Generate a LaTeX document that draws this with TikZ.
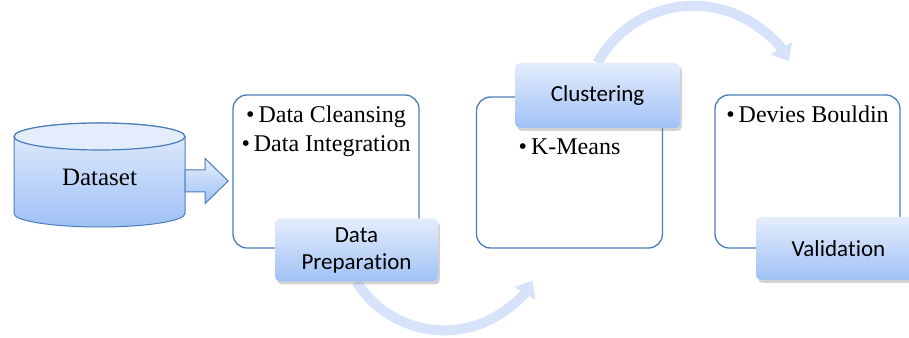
\documentclass[tikz,border=0pt]{standalone}
\usepackage{fontspec}
\setmainfont{Liberation Serif}
\newfontfamily\labelfont[Ligatures=NoCommon]{Carlito}
\usetikzlibrary{arrows.meta,shadows,calc,backgrounds}
\definecolor{edgeblue}{RGB}{74,126,187}
\definecolor{toplight}{RGB}{228,237,252}
\definecolor{bottomdeep}{RGB}{160,193,246}
\definecolor{arcblue}{RGB}{214,227,250}

\begin{document}
\begin{tikzpicture}[x=1pt,y=1pt,
    stagebox/.style={draw=edgeblue,line width=1.3pt,rounded corners=14pt,minimum width=186pt,minimum height=153pt},
    tagbox/.style={rounded corners=5pt,top color=toplight,bottom color=bottomdeep,
        drop shadow={opacity=0.35,shadow xshift=2pt,shadow yshift=-3pt},
        minimum width=163pt,minimum height=63pt,align=center,
        font=\labelfont\fontsize{23}{27}\selectfont},
    bullets/.style={anchor=base,font=\fontsize{24}{29}\selectfont},
    blockarrow/.style={draw=edgeblue,line width=1pt,top color=toplight,bottom color=bottomdeep},
    flowarc/.style={draw=arcblue,line width=10pt,-{Triangle[width=24pt,length=15pt]}}]
    \useasboundingbox (0,0) rectangle (909,337);

    \draw[blockarrow] (14,200.5) -- (14,123.5) arc[start angle=180,end angle=360,x radius=85.5,y radius=13.5]
        -- (185,200.5) arc[start angle=0,end angle=180,x radius=85.5,y radius=13.5] -- cycle;
    \draw[draw=edgeblue,line width=1.2pt,fill=toplight] (99.5,200.5) ellipse[x radius=85.5,y radius=13.5];
    \node (data) at (99.5,160) [minimum width=171pt,minimum height=104pt,font=\rmfamily\fontsize{25}{30}\selectfont] {Dataset};

    \draw[blockarrow] ($(data.east)+(0,7)$) -- ++(20,0) -- ++(0,11.5) -- ++(23,-22.5) -- ++(-23,-22.5)
        -- ++(0,11.5) -- ++(-20,0) -- cycle;

    \node (prepbox) at (326,165.5) [stagebox] {};
    \node (clusbox) at (569.5,164.5) [stagebox,minimum height=151pt] {};
    \node (validbox) at (807.5,165.5) [stagebox,minimum width=185pt] {};

    \node (cleanse) at ($(prepbox.north)+(0,-28)$) [bullets] {•\,Data Cleansing};
    \node (integrate) at ($(cleanse.base)+(0,-29)$) [bullets] {•\,Data Integration};
    \node (kmeans) at ($(clusbox.north)+(0,-58)$) [bullets] {•\,K-Means};
    \node (bouldin) at ($(validbox.north)+(0,-28)$) [bullets] {•\,Devies Bouldin};

    \node (prep) at (356.5,87) [tagbox] {Data\\Prepara\kern0pt tion};
    \node (clus) at (597.5,241.5) [tagbox,minimum width=165pt,minimum height=65pt] {Clustering};
    \node (valid) at (838.5,88.5) [tagbox,minimum width=165pt] {Valida\kern0pt tion};

    \begin{scope}[on background layer]
        \draw[flowarc] (prep.south) arc[start angle=212,end angle=328.7,radius=103.5];
        \draw[flowarc] (clus.north) arc[start angle=151.4,end angle=29.5,radius=109.4];
    \end{scope}
\end{tikzpicture}
\end{document}
